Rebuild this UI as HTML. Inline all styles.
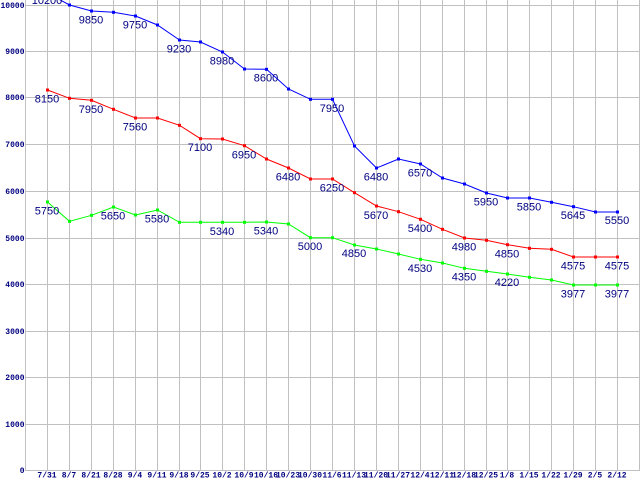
<!DOCTYPE html>
<html>
<head>
<meta charset="utf-8">
<style>
html,body{margin:0;padding:0;background:#fff;}
svg{display:block;}
.ax{font-family:"Liberation Mono",monospace;font-weight:bold;font-size:8px;fill:#000080;}
.lb{font-family:"Liberation Sans",sans-serif;font-size:11px;fill:#000080;text-anchor:middle;}
</style>
</head>
<body>
<svg width="640" height="480" viewBox="0 0 640 480" xmlns="http://www.w3.org/2000/svg">
<rect width="640" height="480" fill="#fff"/>
<g stroke="#c0c0c0" stroke-width="1" shape-rendering="crispEdges" fill="none">
<line x1="25" y1="470.5" x2="640" y2="470.5"/>
<line x1="25" y1="424.5" x2="640" y2="424.5"/>
<line x1="25" y1="377.5" x2="640" y2="377.5"/>
<line x1="25" y1="331.5" x2="640" y2="331.5"/>
<line x1="25" y1="284.5" x2="640" y2="284.5"/>
<line x1="25" y1="238.5" x2="640" y2="238.5"/>
<line x1="25" y1="191.5" x2="640" y2="191.5"/>
<line x1="25" y1="144.5" x2="640" y2="144.5"/>
<line x1="25" y1="97.5" x2="640" y2="97.5"/>
<line x1="25" y1="51.5" x2="640" y2="51.5"/>
<line x1="25" y1="5.5" x2="640" y2="5.5"/>
<line x1="25.5" y1="0" x2="25.5" y2="471"/>
<line x1="47.5" y1="0" x2="47.5" y2="471"/>
<line x1="69.5" y1="0" x2="69.5" y2="471"/>
<line x1="91.5" y1="0" x2="91.5" y2="471"/>
<line x1="113.5" y1="0" x2="113.5" y2="471"/>
<line x1="135.5" y1="0" x2="135.5" y2="471"/>
<line x1="157.5" y1="0" x2="157.5" y2="471"/>
<line x1="179.5" y1="0" x2="179.5" y2="471"/>
<line x1="200.5" y1="0" x2="200.5" y2="471"/>
<line x1="222.5" y1="0" x2="222.5" y2="471"/>
<line x1="244.5" y1="0" x2="244.5" y2="471"/>
<line x1="266.5" y1="0" x2="266.5" y2="471"/>
<line x1="288.5" y1="0" x2="288.5" y2="471"/>
<line x1="310.5" y1="0" x2="310.5" y2="471"/>
<line x1="332.5" y1="0" x2="332.5" y2="471"/>
<line x1="354.5" y1="0" x2="354.5" y2="471"/>
<line x1="376.5" y1="0" x2="376.5" y2="471"/>
<line x1="398.5" y1="0" x2="398.5" y2="471"/>
<line x1="420.5" y1="0" x2="420.5" y2="471"/>
<line x1="442.5" y1="0" x2="442.5" y2="471"/>
<line x1="464.5" y1="0" x2="464.5" y2="471"/>
<line x1="486.5" y1="0" x2="486.5" y2="471"/>
<line x1="507.5" y1="0" x2="507.5" y2="471"/>
<line x1="529.5" y1="0" x2="529.5" y2="471"/>
<line x1="551.5" y1="0" x2="551.5" y2="471"/>
<line x1="573.5" y1="0" x2="573.5" y2="471"/>
<line x1="595.5" y1="0" x2="595.5" y2="471"/>
<line x1="617.5" y1="0" x2="617.5" y2="471"/>
<line x1="639.5" y1="0" x2="639.5" y2="471"/>
</g>

<!-- Y axis labels -->
<g class="ax" text-anchor="end">
<text x="24.5" y="473">0</text>
<text x="24.5" y="427">1000</text>
<text x="24.5" y="380">2000</text>
<text x="24.5" y="334">3000</text>
<text x="24.5" y="287">4000</text>
<text x="24.5" y="241">5000</text>
<text x="24.5" y="194">6000</text>
<text x="24.5" y="147">7000</text>
<text x="24.5" y="100">8000</text>
<text x="24.5" y="54">9000</text>
<text x="24.5" y="8">10000</text>
</g>

<!-- X axis labels -->
<g class="ax" text-anchor="middle">
<text x="47" y="477.5">7/31</text>
<text x="69" y="477.5">8/7</text>
<text x="91" y="477.5">8/21</text>
<text x="113" y="477.5">8/28</text>
<text x="135" y="477.5">9/4</text>
<text x="157" y="477.5">9/11</text>
<text x="179" y="477.5">9/18</text>
<text x="200" y="477.5">9/25</text>
<text x="222" y="477.5">10/2</text>
<text x="244" y="477.5">10/9</text>
<text x="266" y="477.5">10/16</text>
<text x="288" y="477.5">10/23</text>
<text x="310" y="477.5">10/30</text>
<text x="332" y="477.5">11/6</text>
<text x="354" y="477.5">11/13</text>
<text x="376" y="477.5">11/20</text>
<text x="398" y="477.5">11/27</text>
<text x="420" y="477.5">12/4</text>
<text x="442" y="477.5">12/11</text>
<text x="464" y="477.5">12/18</text>
<text x="486" y="477.5">12/25</text>
<text x="507" y="477.5">1/8</text>
<text x="529" y="477.5">1/15</text>
<text x="551" y="477.5">1/22</text>
<text x="573" y="477.5">1/29</text>
<text x="595" y="477.5">2/5</text>
<text x="617" y="477.5">2/12</text>
</g>

<!-- Blue series -->
<polyline fill="none" stroke="#0000ff" stroke-width="1" points="47.5,-7 69.5,5 91.5,11 113.5,12.3 135.5,16 157.5,25 179.5,40 200.5,42 222.5,52 244.5,69 266.5,69.3 288.5,89 310.5,99.3 332.5,99.3 354.5,146 376.5,168 398.5,159 420.5,164 442.5,178 464.5,184 486.5,193 507.5,198 529.5,198 551.5,202.3 573.5,206.7 595.5,212 617.5,212"/>
<g fill="#0000ff">
<rect x="68" y="3.5" width="3" height="3"/>
<rect x="90" y="9.5" width="3" height="3"/>
<rect x="112" y="10.8" width="3" height="3"/>
<rect x="134" y="14.5" width="3" height="3"/>
<rect x="156" y="23.5" width="3" height="3"/>
<rect x="178" y="38.5" width="3" height="3"/>
<rect x="199" y="40.5" width="3" height="3"/>
<rect x="221" y="50.5" width="3" height="3"/>
<rect x="243" y="67.5" width="3" height="3"/>
<rect x="265" y="67.8" width="3" height="3"/>
<rect x="287" y="87.5" width="3" height="3"/>
<rect x="309" y="97.8" width="3" height="3"/>
<rect x="331" y="97.8" width="3" height="3"/>
<rect x="353" y="144.5" width="3" height="3"/>
<rect x="375" y="166.5" width="3" height="3"/>
<rect x="397" y="157.5" width="3" height="3"/>
<rect x="419" y="162.5" width="3" height="3"/>
<rect x="441" y="176.5" width="3" height="3"/>
<rect x="463" y="182.5" width="3" height="3"/>
<rect x="485" y="191.5" width="3" height="3"/>
<rect x="506" y="196.5" width="3" height="3"/>
<rect x="528" y="196.5" width="3" height="3"/>
<rect x="550" y="200.8" width="3" height="3"/>
<rect x="572" y="205.2" width="3" height="3"/>
<rect x="594" y="210.5" width="3" height="3"/>
<rect x="616" y="210.5" width="3" height="3"/>
</g>

<!-- Red series -->
<polyline fill="none" stroke="#ff0000" stroke-width="1" points="47.5,90 69.5,98.3 91.5,100.3 113.5,109.3 135.5,118 157.5,118 179.5,125.3 200.5,138.7 222.5,139 244.5,145.7 266.5,159 288.5,168 310.5,179 332.5,179 354.5,192.7 376.5,206 398.5,211.7 420.5,219.3 442.5,229.3 464.5,238 486.5,240.3 507.5,244.7 529.5,248.3 551.5,249.3 573.5,257 595.5,257 617.5,257"/>
<g fill="#ff0000">
<rect x="46" y="88.5" width="3" height="3"/>
<rect x="68" y="96.8" width="3" height="3"/>
<rect x="90" y="98.8" width="3" height="3"/>
<rect x="112" y="107.8" width="3" height="3"/>
<rect x="134" y="116.5" width="3" height="3"/>
<rect x="156" y="116.5" width="3" height="3"/>
<rect x="178" y="123.8" width="3" height="3"/>
<rect x="199" y="137.2" width="3" height="3"/>
<rect x="221" y="137.5" width="3" height="3"/>
<rect x="243" y="144.2" width="3" height="3"/>
<rect x="265" y="157.5" width="3" height="3"/>
<rect x="287" y="166.5" width="3" height="3"/>
<rect x="309" y="177.5" width="3" height="3"/>
<rect x="331" y="177.5" width="3" height="3"/>
<rect x="353" y="191.2" width="3" height="3"/>
<rect x="375" y="204.5" width="3" height="3"/>
<rect x="397" y="210.2" width="3" height="3"/>
<rect x="419" y="217.8" width="3" height="3"/>
<rect x="441" y="227.8" width="3" height="3"/>
<rect x="463" y="236.5" width="3" height="3"/>
<rect x="485" y="238.8" width="3" height="3"/>
<rect x="506" y="243.2" width="3" height="3"/>
<rect x="528" y="246.8" width="3" height="3"/>
<rect x="550" y="247.8" width="3" height="3"/>
<rect x="572" y="255.5" width="3" height="3"/>
<rect x="594" y="255.5" width="3" height="3"/>
<rect x="616" y="255.5" width="3" height="3"/>
</g>

<!-- Green series -->
<polyline fill="none" stroke="#00ff00" stroke-width="1" points="47.5,202 69.5,221.3 91.5,215.3 113.5,207 135.5,215 157.5,210 179.5,222.3 200.5,222.3 222.5,222.3 244.5,222.3 266.5,222 288.5,224 310.5,237.7 332.5,237.7 354.5,245 376.5,249 398.5,254 420.5,259.3 442.5,263 464.5,268.3 486.5,271.3 507.5,274 529.5,277.3 551.5,280 573.5,285 595.5,285 617.5,285"/>
<g fill="#00ff00">
<rect x="46" y="200.5" width="3" height="3"/>
<rect x="68" y="219.8" width="3" height="3"/>
<rect x="90" y="213.8" width="3" height="3"/>
<rect x="112" y="205.5" width="3" height="3"/>
<rect x="134" y="213.5" width="3" height="3"/>
<rect x="156" y="208.5" width="3" height="3"/>
<rect x="178" y="220.8" width="3" height="3"/>
<rect x="199" y="220.8" width="3" height="3"/>
<rect x="221" y="220.8" width="3" height="3"/>
<rect x="243" y="220.8" width="3" height="3"/>
<rect x="265" y="220.5" width="3" height="3"/>
<rect x="287" y="222.5" width="3" height="3"/>
<rect x="309" y="236.2" width="3" height="3"/>
<rect x="331" y="236.2" width="3" height="3"/>
<rect x="353" y="243.5" width="3" height="3"/>
<rect x="375" y="247.5" width="3" height="3"/>
<rect x="397" y="252.5" width="3" height="3"/>
<rect x="419" y="257.8" width="3" height="3"/>
<rect x="441" y="261.5" width="3" height="3"/>
<rect x="463" y="266.8" width="3" height="3"/>
<rect x="485" y="269.8" width="3" height="3"/>
<rect x="506" y="272.5" width="3" height="3"/>
<rect x="528" y="275.8" width="3" height="3"/>
<rect x="550" y="278.5" width="3" height="3"/>
<rect x="572" y="283.5" width="3" height="3"/>
<rect x="594" y="283.5" width="3" height="3"/>
<rect x="616" y="283.5" width="3" height="3"/>
</g>

<!-- Blue labels -->
<g class="lb">
<text x="47" y="4">10200</text>
<text x="91" y="23.5">9850</text>
<text x="135" y="28.5">9750</text>
<text x="179" y="52.5">9230</text>
<text x="222" y="64.5">8980</text>
<text x="266" y="81.5">8600</text>
<text x="332" y="112">7950</text>
<text x="376" y="180.5">6480</text>
<text x="420" y="176.5">6570</text>
<text x="486" y="205.5">5950</text>
<text x="529" y="210.5">5850</text>
<text x="573" y="219">5645</text>
<text x="617" y="224">5550</text>
</g>
<!-- Red labels -->
<g class="lb">
<text x="47" y="102.5">8150</text>
<text x="91" y="113">7950</text>
<text x="135" y="130.5">7560</text>
<text x="200" y="151">7100</text>
<text x="244" y="158.3">6950</text>
<text x="288" y="180.5">6480</text>
<text x="332" y="191.5">6250</text>
<text x="376" y="218.8">5670</text>
<text x="420" y="232">5400</text>
<text x="464" y="250.3">4980</text>
<text x="507" y="257.3">4850</text>
<text x="573" y="269.5">4575</text>
<text x="617" y="269.5">4575</text>
</g>
<!-- Green labels -->
<g class="lb">
<text x="47" y="214.6">5750</text>
<text x="113" y="219.3">5650</text>
<text x="157" y="222.6">5580</text>
<text x="222" y="235">5340</text>
<text x="266" y="234.3">5340</text>
<text x="310" y="249.8">5000</text>
<text x="354" y="257">4850</text>
<text x="420" y="271.8">4530</text>
<text x="464" y="280.3">4350</text>
<text x="507" y="286.2">4220</text>
<text x="573" y="297.4">3977</text>
<text x="617" y="297.4">3977</text>
</g>
</svg>
</body>
</html>
